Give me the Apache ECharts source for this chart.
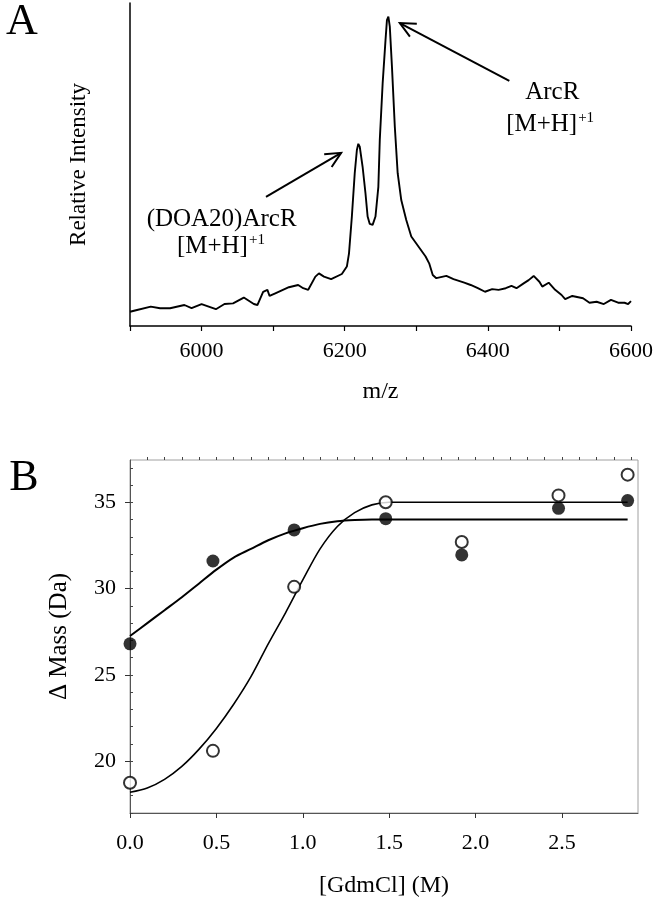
<!DOCTYPE html>
<html><head><meta charset="utf-8">
<script src="https://cdn.jsdelivr.net/npm/echarts@6/dist/echarts.min.js"></script>
<style>html,body{margin:0;padding:0;background:#fff}#c{width:656px;height:900px}</style>
</head><body><div id="c"></div>
<script>
// ---- Panel A: mass spectrum ----
const specMz = [5900,5907,5929,5942,5956,5976,5986,6000,6020,6032,6044,6059,6073,6078,6086,6092,6095,6103,6122,6135,6142,6149,6159,6164,6171,6181,6196,6203,6206,6210,6214,6217,6219,6221,6225,6229,6232,6235,6239,6243,6247,6249,6253,6257,6259,6261,6263,6266,6270,6274,6279,6286,6293,6303,6313,6318,6323,6328,6342,6352,6367,6376,6386,6396,6406,6415,6425,6433,6440,6450,6457,6464,6472,6476,6485,6494,6503,6508,6518,6533,6542,6552,6562,6572,6582,6591,6596,6600];
const specInt = [4.4,4.8,6.0,5.5,5.5,6.5,5.5,6.8,5.2,6.8,7.0,8.8,6.8,6.5,10.6,11.2,9.3,10.1,12.0,12.7,11.7,11.2,15.3,16.3,15.3,14.5,16.1,18.4,22.5,33.9,47.3,54.5,56.4,55.5,49.3,41.1,33.9,31.6,31.3,33.9,43.1,57.6,75.1,88.5,94.7,95.8,92.7,80.3,61.7,47.3,39.0,32.8,27.7,24.6,21.5,19.4,15.8,14.8,15.5,14.5,13.4,12.7,11.7,10.6,11.4,11.2,11.7,12.4,11.7,13.2,14.2,15.5,13.7,12.2,13.4,11.2,9.6,8.3,9.3,8.6,7.2,7.5,6.8,8.1,7.2,7.2,6.8,7.7];
const mzLabelStep = 200;

// ---- Panel B: delta mass vs GdmCl ----
const gdmX = [0, 0.48, 0.95, 1.48, 1.92, 2.48, 2.88];
const filledMass = [26.8, 31.6, 33.4, 34.05, 31.95, 34.65, 35.1];
const openMass = [18.75, 20.6, 30.1, 35.0, 32.7, 35.4, 36.6];
const filledFitX = [0,0.1,0.2,0.3,0.4,0.5,0.6,0.7,0.8,0.9,1.0,1.1,1.2,1.3,1.4,1.5,2.88];
const filledFitY = [27.25,28.0,28.75,29.5,30.3,31.1,31.8,32.3,32.8,33.2,33.5,33.75,33.9,33.97,34.0,34.0,34.0];
const openFitX = [0,0.1,0.2,0.3,0.4,0.5,0.6,0.7,0.8,0.9,1.0,1.1,1.2,1.3,1.4,1.5,2.88];
const openFitY = [18.2,18.45,18.95,19.7,20.7,21.9,23.3,24.9,26.8,28.6,30.5,32.3,33.6,34.4,34.85,35.0,35.0];
const massMajor = [20,25,30,35];
const massMinor = [17,18,19,20,21,22,23,24,25,26,27,28,29,30,31,32,33,34,35,36,37];
const gdmMajor = [0,0.5,1,1.5,2,2.5];
const gdmMinor = [0.1,0.2,0.3,0.4,0.5,0.6,0.7,0.8,0.9,1.0,1.1,1.2,1.3,1.4,1.5,1.6,1.7,1.8,1.9,2.0,2.1,2.2,2.3,2.4,2.5,2.6,2.7,2.8,2.9];

const F = '"Liberation Serif", "Times New Roman", serif';
const chart = echarts.init(document.getElementById('c'), null, {renderer:'canvas'});
const zip = (a,b) => a.map((v,i)=>[v,b[i]]);

chart.setOption({
  animation: false,
  backgroundColor: '#fff',
  grid: [
    {left:130, right:24, top:3, bottom:574, show:false},
    {left:130, right:18, top:460, bottom:87, show:true, borderColor:'#a0a0a0', borderWidth:1, backgroundColor:'transparent'}
  ],
  xAxis: [
    {gridIndex:0, type:'value', min:5900, max:6600, interval:100,
     axisLine:{lineStyle:{color:'#000', width:1.5}},
     axisTick:{show:true, inside:false, length:5, lineStyle:{color:'#000', width:1.2}},
     splitLine:{show:false},
     axisLabel:{margin:14, color:'#000', fontFamily:F, fontSize:22,
       formatter: v => (v % mzLabelStep === 0) ? String(v) : ''},
     name:'m/z', nameLocation:'middle', nameGap:54,
     nameTextStyle:{color:'#000', fontFamily:F, fontSize:24}},
    {gridIndex:1, type:'value', min:0, max:2.94,
     axisLine:{lineStyle:{color:'#555', width:1}},
     axisTick:{show:true, length:5, customValues:gdmMajor, lineStyle:{color:'#333', width:1}},
     splitLine:{show:false},
     axisLabel:{margin:19, color:'#000', fontFamily:F, fontSize:22, customValues:gdmMajor,
       formatter: v => v.toFixed(1)},
     name:'[GdmCl] (M)', nameLocation:'middle', nameGap:61,
     nameTextStyle:{color:'#000', fontFamily:F, fontSize:24}},
    {gridIndex:1, type:'value', min:0, max:2.94,
     axisLine:{show:false},
     axisTick:{show:true, length:3, customValues:gdmMinor, lineStyle:{color:'#444', width:1}},
     axisLabel:{show:false}, splitLine:{show:false}}
  ],
  yAxis: [
    {gridIndex:0, type:'value', min:0, max:100,
     axisLine:{show:true, lineStyle:{color:'#000', width:1.5}},
     axisTick:{show:false}, axisLabel:{show:false}, splitLine:{show:false},
     name:'Relative Intensity', nameLocation:'middle', nameGap:40, nameRotate:90,
     nameTextStyle:{color:'#000', fontFamily:F, fontSize:23}},
    {gridIndex:1, type:'value', min:17, max:37.45,
     axisLine:{show:true, lineStyle:{color:'#555', width:1}},
     axisTick:{show:true, length:5, customValues:massMajor, lineStyle:{color:'#333', width:1}},
     splitLine:{show:false},
     axisLabel:{margin:14, color:'#000', fontFamily:F, fontSize:22, customValues:massMajor},
     name:'Δ Mass (Da)', nameLocation:'middle', nameGap:58, nameRotate:90,
     nameTextStyle:{color:'#000', fontFamily:F, fontSize:25}},
    {gridIndex:1, type:'value', min:17, max:37.45,
     axisLine:{show:false},
     axisTick:{show:true, length:3, customValues:massMinor, lineStyle:{color:'#444', width:1}},
     axisLabel:{show:false}, splitLine:{show:false}}
  ],
  series: [
    {type:'line', xAxisIndex:0, yAxisIndex:0, data:zip(specMz, specInt), showSymbol:false,
     lineStyle:{color:'#000', width:1.9}, z:3},
    {type:'line', xAxisIndex:1, yAxisIndex:1, data:zip(filledFitX, filledFitY), showSymbol:false, smooth:0.3,
     lineStyle:{color:'#000', width:2}, z:3},
    {type:'line', xAxisIndex:1, yAxisIndex:1, data:zip(openFitX, openFitY), showSymbol:false, smooth:0.3,
     lineStyle:{color:'#000', width:1.6}, z:3},
    {type:'scatter', xAxisIndex:1, yAxisIndex:1, data:zip(gdmX, filledMass), symbol:'circle', symbolSize:13,
     itemStyle:{color:'#000'}, z:5},
    {type:'scatter', xAxisIndex:1, yAxisIndex:1, data:zip(gdmX, openMass), symbol:'circle', symbolSize:12,
     itemStyle:{color:'#fff', borderColor:'#000', borderWidth:2}, z:6}
  ]
});

// annotations anchored in data coordinates of panel A
const P = pt => chart.convertToPixel({gridIndex:0}, pt);
function arrow(tail, tip) {
  const a = P(tail), b = P(tip);
  const ang = Math.atan2(a[1]-b[1], a[0]-b[0]);
  const L = 17, s = 0.45;
  const h1 = [b[0]+L*Math.cos(ang+s), b[1]+L*Math.sin(ang+s)];
  const h2 = [b[0]+L*Math.cos(ang-s), b[1]+L*Math.sin(ang-s)];
  return [
    {type:'line', shape:{x1:a[0], y1:a[1], x2:b[0], y2:b[1]}, style:{stroke:'#000', lineWidth:2}, z:10},
    {type:'polyline', shape:{points:[h1, b, h2]}, style:{stroke:'#000', lineWidth:2, fill:null}, z:10}
  ];
}
function label(pt, txt) {
  const p = P(pt);
  return {type:'text', x:p[0], y:p[1], z:10, style:{text:txt, align:'center', verticalAlign:'middle',
    font:'25px ' + F, fill:'#000',
    rich:{m:{fontFamily:F, fontSize:25, fill:'#000'}, s:{fontFamily:F, fontSize:15, fill:'#000', padding:[0,0,13,1]}}}};
}
chart.setOption({graphic:[
  ...arrow([6430, 75.9], [6277, 93.8]),
  ...arrow([6090, 40.0], [6195, 53.6]),
  label([6490, 72.4], 'ArcR'),
  label([6487, 62.5], '{m|[M+H]}{s|+1}'),
  label([6028, 33.1], '(DOA20)ArcR'),
  label([6027, 24.5], '{m|[M+H]}{s|+1}'),
  {type:'text', x:22, y:22, style:{text:'A', font:'44px ' + F, fill:'#000', align:'center', verticalAlign:'middle'}},
  {type:'text', x:24, y:478, style:{text:'B', font:'44px ' + F, fill:'#000', align:'center', verticalAlign:'middle'}}
]});
</script>
</body></html>
